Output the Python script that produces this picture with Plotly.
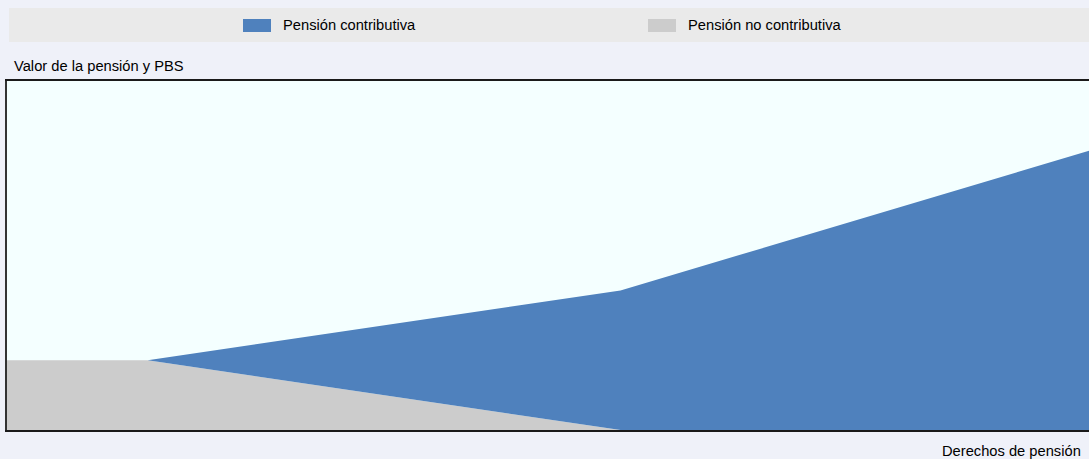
import plotly.graph_objects as go

# Data (normalized units)
derechos = [0.0, 0.13, 0.567, 1.0]
no_contributiva = [0.2, 0.2, 0.0, 0.0]
contributiva = [0.0, 0.0, 0.4, 0.8]

series_names = ["Pensión contributiva", "Pensión no contributiva"]

BLUE = "#4F81BD"
GREY = "#CCCCCC"
FONT = "Liberation Sans, Arial, sans-serif"
FS = 14.7

W, H = 1089, 459
L, R, T, B = 7, 0, 81, 29
PW, PH = W - L - R, H - T - B

def px_x(p):
    return (p - L) / PW

def px_y(p):
    return (H - B - p) / PH

fig = go.Figure()
fig.add_trace(go.Scatter(
    x=derechos, y=no_contributiva, name=series_names[1],
    mode="lines", stackgroup="one", line=dict(width=0, color=GREY),
    fillcolor=GREY, showlegend=False, hoverinfo="skip"))
fig.add_trace(go.Scatter(
    x=derechos, y=contributiva, name=series_names[0],
    mode="lines", stackgroup="one", line=dict(width=0, color=BLUE),
    fillcolor=BLUE, showlegend=False, hoverinfo="skip"))

# legend band
fig.add_shape(type="rect", xref="paper", yref="paper",
              x0=px_x(9), x1=1.0, y0=px_y(42), y1=px_y(8),
              fillcolor="#EAEAEA", line=dict(width=0), layer="below")

# legend entries
for name, col, sx in [(series_names[0], BLUE, 243), (series_names[1], GREY, 648)]:
    fig.add_shape(type="rect", xref="paper", yref="paper",
                  x0=px_x(sx), x1=px_x(sx + 28), y0=px_y(32), y1=px_y(19),
                  fillcolor=col, line=dict(width=0))
    fig.add_annotation(text=name, xref="paper", yref="paper",
                       x=px_x(sx + 38), y=px_y(25.5), xanchor="left", yanchor="middle",
                       showarrow=False, font=dict(size=FS, color="#000", family=FONT))

fig.add_annotation(text="Valor de la pensión y PBS", xref="paper", yref="paper",
                   x=px_x(12), y=px_y(66), xanchor="left", yanchor="middle",
                   showarrow=False, font=dict(size=FS, color="#000", family=FONT))
fig.add_annotation(text="Derechos de pensión", xref="paper", yref="paper",
                   x=px_x(1083), y=px_y(451), xanchor="right", yanchor="middle",
                   showarrow=False, font=dict(size=FS, color="#000", family=FONT))

fig.update_layout(
    width=W, height=H,
    margin=dict(l=L, r=R, t=T, b=B, pad=0),
    paper_bgcolor="#EFF1F9",
    plot_bgcolor="#F4FFFF",
    font=dict(family=FONT, size=FS, color="#000"),
    showlegend=False,
    xaxis=dict(range=[0, 1], showgrid=False, zeroline=False, showticklabels=False,
               ticks="", showline=True, linecolor="#1a1a1a", linewidth=1.5, mirror=True),
    yaxis=dict(range=[0, 1], showgrid=False, zeroline=False, showticklabels=False,
               ticks="", showline=True, linecolor="#333", linewidth=1.5),
)

fig.write_html("out.html", config={"displayModeBar": False},
               post_script="document.body.style.margin='0';document.body.style.overflow='hidden';")
